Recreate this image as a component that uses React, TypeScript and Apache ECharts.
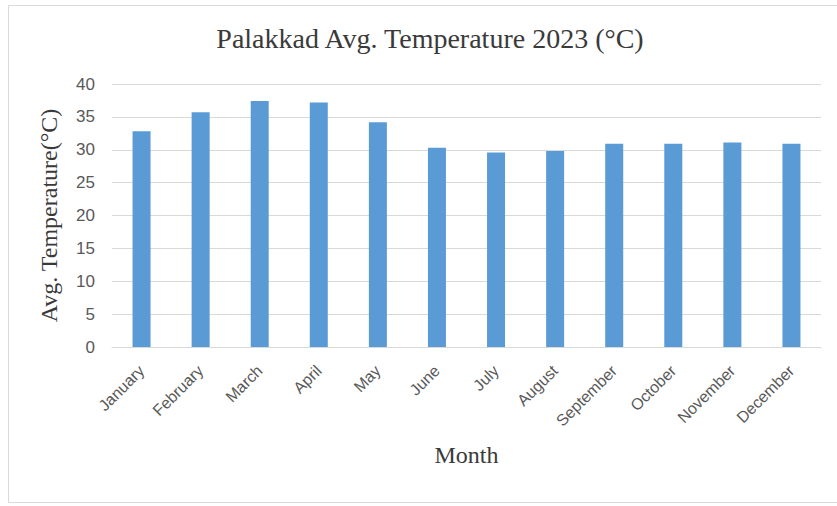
import React, { useEffect, useRef } from "react";
import * as echarts from "echarts";

const months = [
  "January", "February", "March", "April", "May", "June",
  "July", "August", "September", "October", "November", "December",
];
const avgTemps = [32.8, 35.7, 37.4, 37.2, 34.2, 30.3, 29.6, 29.8, 30.9, 30.9, 31.1, 30.9];
const yTicks = { min: 0, max: 40, interval: 5 };

const serif = "'Liberation Serif', 'Times New Roman', serif";
const sans = "'Liberation Sans', Arial, sans-serif";

export default function App() {
  const ref = useRef<HTMLDivElement>(null);

  useEffect(() => {
    if (!ref.current) return;
    const chart = echarts.init(ref.current, undefined, { renderer: "svg" });
    chart.setOption({
      animation: false,
      backgroundColor: "#ffffff",
      title: {
        text: "Palakkad Avg. Temperature 2023 (°C)",
        left: 425,
        textAlign: "center",
        top: 19,
        textStyle: { fontFamily: serif, fontWeight: "normal", fontSize: 28, color: "#3a3a3a" },
      },
      graphic: [
        {
          type: "rect",
          shape: { x: 8.5, y: 5.5, width: 840, height: 497 },
          style: { fill: "none", stroke: "#d9d9d9", lineWidth: 1 },
          silent: true,
        },
      ],
      grid: { left: 112, right: 16, top: 84, bottom: 159 },
      xAxis: {
        type: "category",
        data: months,
        name: "Month",
        nameLocation: "middle",
        nameGap: 96,
        nameTextStyle: { fontFamily: serif, fontSize: 24, color: "#3a3a3a" },
        axisLine: { lineStyle: { color: "#d9d9d9" } },
        axisTick: { show: false },
        axisLabel: { rotate: 45, interval: 0, fontFamily: sans, fontSize: 16, color: "#595959", margin: 21 },
      },
      yAxis: {
        type: "value",
        ...yTicks,
        name: "Avg. Temperature(°C)",
        nameLocation: "middle",
        nameRotate: 90,
        nameGap: 51,
        nameTextStyle: { fontFamily: serif, fontSize: 24, color: "#3a3a3a" },
        axisLine: { show: false },
        axisTick: { show: false },
        splitLine: { lineStyle: { color: "#d9d9d9" } },
        axisLabel: { fontFamily: sans, fontSize: 17, color: "#595959", margin: 17 },
      },
      series: [
        {
          type: "bar",
          data: avgTemps,
          barWidth: 18,
          itemStyle: { color: "#5b9bd5" },
        },
      ],
    });
    return () => chart.dispose();
  }, []);

  return <div ref={ref} style={{ position: "fixed", left: 0, top: 0, width: 837, height: 506 }} />;
}
